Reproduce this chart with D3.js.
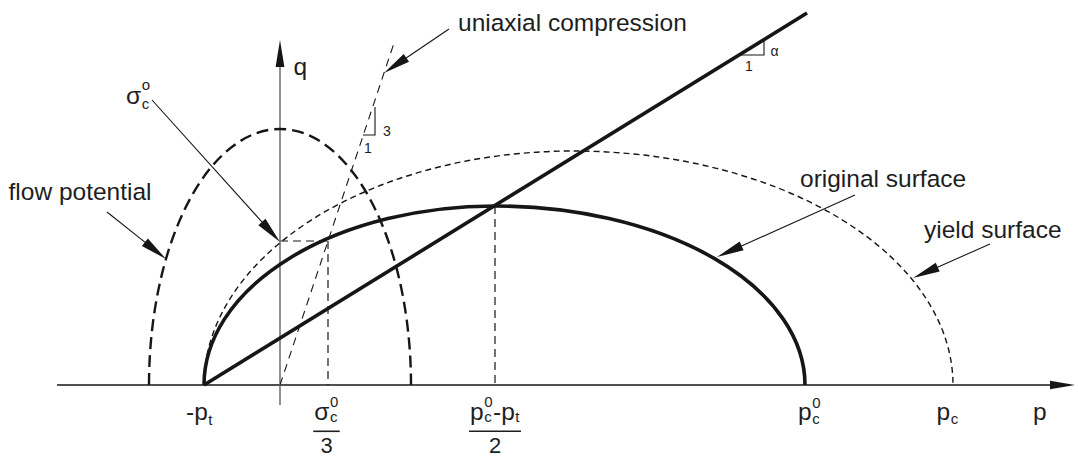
<!DOCTYPE html>
<html><head><meta charset="utf-8">
<script src="https://cdn.jsdelivr.net/npm/d3@7"></script>
<style>html,body{margin:0;padding:0;background:#fff;} svg{display:block;}</style>
</head><body>
<script>
// ---------------- data (drawing units) ----------------
const pExtent = [-223, 795];
const qExtent = [-20, 345];
const pt = 76;          // p_t
const sigmaC0 = 144;    // σc0
const pPeak = 215;      // peak of original surface, marked (pc0-pt)/2
const qPeak = 179;
const pc0 = 525;
const pc = 673;
const originalSurface = [[-pt, 0], [pPeak, qPeak], [pc0, 0]];
const yieldSurface    = [[-pt, 0], [293, 234], [pc, 0]];
const flowPotential   = [[-131, 0], [0, 256], [131, 0]];
const failureLine     = [[-pt, 0], [527, 372]];
const uniaxialLine    = [[0, 0], [115, 345]];
const uniaxialTriangle = [[83, 250], [95, 250], [95, 278]];
const alphaTriangle    = [[458, 330], [484, 330], [484, 345]];
const annotationFrom = [[-128, 285], [-173, 173], [169, 356], [575, 190], [710, 141]];
const annotationTo   = [[0, 143],    [-114, 126], [104, 312], [437, 128], [633, 107]];
const curveLabels = ['uniaxial compression', 'flow potential', 'original surface', 'yield surface', 'q', 'p'];
const tickValues = [-pt, sigmaC0 / 3, pPeak, pc0, pc];

// ---------------- layout ----------------
const W = 1078, H = 468;
const x = d3.scaleLinear().domain(pExtent).range([57, 1075]);
const y = d3.scaleLinear().domain(qExtent).range([405, 40]);
const INK = '#161616', TXT = '#1e1e1e';
const FONT = '"Liberation Sans", Arial, Helvetica, sans-serif';
const FS = 24.5, FSS = 15;
const curveLabelPos = [[178, 354], [-271.5, 185.5], [520, 198], [644, 147], [13.5, 310], [753, -35]];

const svg = d3.select('body').append('svg').attr('width', W).attr('height', H)
  .style('font-family', FONT);
const line = d3.line().x(d => x(d[0])).y(d => y(d[1]));

function capPath(pts) {
  const [a, b, c] = pts;
  const X0 = x(a[0]), Y0 = y(a[1]), XP = x(b[0]), YP = y(b[1]), X1 = x(c[0]), Y1 = y(c[1]);
  const ry = Y0 - YP;
  return `M${X0},${Y0} A${XP - X0},${ry} 0 0 1 ${XP},${YP} A${X1 - XP},${ry} 0 0 1 ${X1},${Y1}`;
}
function arrow(g, x1, y1, x2, y2, L, Wd, sw, color) {
  const dx = x2 - x1, dy = y2 - y1, len = Math.hypot(dx, dy);
  const ux = dx / len, uy = dy / len;
  const bx = x2 - ux * L, by = y2 - uy * L;
  g.append('line').attr('x1', x1).attr('y1', y1).attr('x2', bx + ux * 2).attr('y2', by + uy * 2)
    .attr('stroke', color || INK).attr('stroke-width', sw);
  g.append('path').attr('d', `M${x2},${y2}L${bx - uy * Wd},${by + ux * Wd}L${bx + uy * Wd},${by - ux * Wd}Z`)
    .attr('fill', INK);
}
// rich text: segs = [{t:'p'}, {sub:'c', sup:'0'}]
function rich(g, x0, y0, segs, o) {
  o = Object.assign({fs: FS, fss: FSS, subDy: 4, supDy: -12}, o || {});
  let cx = x0;
  const nodes = [];
  segs.forEach(s => {
    if (s.t !== undefined) {
      const n = g.append('text').attr('x', cx).attr('y', y0).attr('font-size', o.fs).attr('fill', TXT).text(s.t);
      cx += n.node().getComputedTextLength(); nodes.push(n);
    } else {
      let w = 0;
      if (s.sub) { const n = g.append('text').attr('x', cx + 0.5).attr('y', y0 + o.subDy).attr('font-size', o.fss).attr('fill', TXT).text(s.sub); w = Math.max(w, n.node().getComputedTextLength()); nodes.push(n); }
      if (s.sup) { const n = g.append('text').attr('x', cx + 0.5).attr('y', y0 + o.supDy).attr('font-size', o.fss).attr('fill', TXT).text(s.sup); w = Math.max(w, n.node().getComputedTextLength()); nodes.push(n); }
      cx += w + 1;
    }
  });
  return {width: cx - x0, nodes};
}

// ---------------- guides ----------------
const guides = svg.append('g').attr('fill', 'none').attr('stroke', INK).attr('stroke-width', 1.2).attr('stroke-dasharray', '8,5');
guides.append('path').attr('d', line([[0, sigmaC0], [sigmaC0 / 3, sigmaC0]]));
guides.append('path').attr('d', line([[sigmaC0 / 3, sigmaC0], [sigmaC0 / 3, 0]]));
guides.append('path').attr('d', line([[pPeak, qPeak], [pPeak, 0]]));

// ---------------- axes ----------------
const axes = svg.append('g');
arrow(axes, x(pExtent[0]), y(0), x(pExtent[1]), y(0), 25, 4.3, 1.6, INK);
arrow(axes, x(0), y(qExtent[0]), x(0), y(qExtent[1]), 27, 4.4, 1.5, '#6e6e6e');

// ---------------- curves ----------------
svg.append('path').attr('d', line(uniaxialLine)).attr('fill', 'none').attr('stroke', INK)
  .attr('stroke-width', 1.1).attr('stroke-dasharray', '8,6');
svg.append('path').attr('d', capPath(flowPotential)).attr('fill', 'none').attr('stroke', INK)
  .attr('stroke-width', 2.4).attr('stroke-dasharray', '12,6');
svg.append('path').attr('d', capPath(yieldSurface)).attr('fill', 'none').attr('stroke', INK)
  .attr('stroke-width', 1.4).attr('stroke-dasharray', '6,4');
svg.append('path').attr('d', capPath(originalSurface)).attr('fill', 'none').attr('stroke', INK)
  .attr('stroke-width', 3.6);
svg.append('path').attr('d', line(failureLine)).attr('fill', 'none').attr('stroke', INK)
  .attr('stroke-width', 3.6);

// slope triangles
svg.append('path').attr('d', line(uniaxialTriangle)).attr('fill', 'none').attr('stroke', INK).attr('stroke-width', 1.1);
svg.append('path').attr('d', line(alphaTriangle)).attr('fill', 'none').attr('stroke', INK).attr('stroke-width', 1.1);
const small = svg.append('g').attr('font-size', 14).attr('fill', TXT);
small.append('text').attr('x', x(88)).attr('y', y(232)).attr('text-anchor', 'middle').text('1');
small.append('text').attr('x', x(103)).attr('y', y(249)).text('3');
small.append('text').attr('x', x(469)).attr('y', y(314)).attr('text-anchor', 'middle').text('1');
small.append('text').attr('x', x(490.5)).attr('y', y(329)).text('α');

// ---------------- annotation arrows ----------------
const ann = svg.append('g');
annotationFrom.forEach((f, i) => {
  const t = annotationTo[i];
  arrow(ann, x(f[0]), y(f[1]), x(t[0]), y(t[1]), 27, 4.8, 1.1, INK);
});

// ---------------- labels ----------------
const lab = svg.append('g');
curveLabels.forEach((s, i) => {
  lab.append('text').attr('x', x(curveLabelPos[i][0])).attr('y', y(curveLabelPos[i][1]))
    .attr('font-size', FS).attr('fill', TXT).text(s);
});
// σc° label
rich(lab, x(-154), y(281.5), [{t: 'σ'}, {sub: 'c', sup: 'o'}], {subDy: 5, supDy: -14});

// tick labels on p axis
const baseY = 420;
const tickLabelStart = [-18, null, null, -7, -16.5];
const tickSegs = [
  [{t: '-p'}, {sub: 't'}],
  null, null,
  [{t: 'p'}, {sub: 'c', sup: '0'}],
  [{t: 'p'}, {sub: 'c'}]
];
tickValues.forEach((v, i) => {
  if (!tickSegs[i]) return;
  rich(lab, x(v) + tickLabelStart[i], baseY, tickSegs[i], {subDy: i === 0 ? 5 : 4});
});
// fractions
function fraction(cxp, numSegs, den, shift) {
  const g = lab.append('g');
  const r = rich(g, 0, baseY, numSegs, {supDy: -13, subDy: 2});
  const cx = x(cxp) + shift;
  const w = r.width;
  r.nodes.forEach(n => n.attr('x', +n.attr('x') + cx - w / 2));
  g.append('line').attr('x1', cx - w / 2 - 1).attr('x2', cx + w / 2 + 1)
    .attr('y1', 431.3).attr('y2', 431.3).attr('stroke', TXT).attr('stroke-width', 1.6);
  g.append('text').attr('x', cx).attr('y', 453.3).attr('text-anchor', 'middle')
    .attr('font-size', 22).attr('fill', TXT).text(den);
}
fraction(tickValues[1], [{t: 'σ'}, {sub: 'c', sup: '0'}], '3', -1.5);
fraction(tickValues[2], [{t: 'p'}, {sub: 'c', sup: '0'}, {t: '-p'}, {sub: 't'}], '2', 0);
</script>
</body></html>
